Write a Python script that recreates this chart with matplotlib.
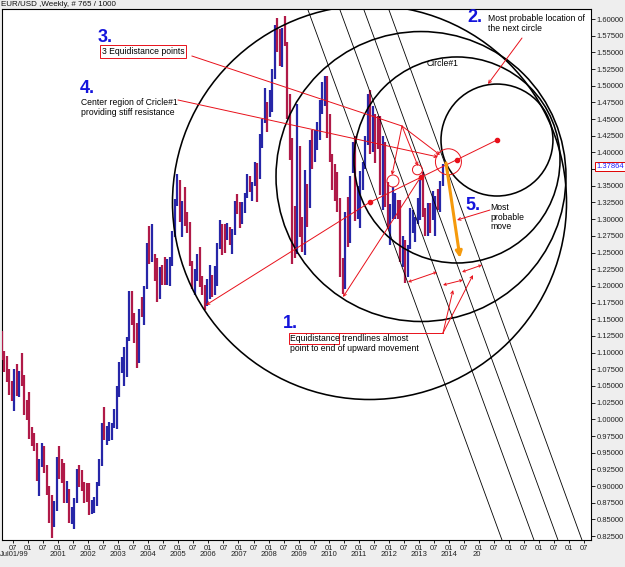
import matplotlib
matplotlib.use('Agg')
import matplotlib.pyplot as plt
import matplotlib.transforms as mtransforms
from matplotlib.patches import Ellipse, Rectangle
import numpy as np

plt.rcParams['font.family'] = ['Liberation Sans', 'DejaVu Sans']

# ---------------- data: monthly EUR/USD ----------------
first_year, first_month = 1999, 2
first_open = 1.1290
highs = [
    1.1330, 1.1017, 1.0950, 1.0760, 1.0570, 1.0750, 1.0825, 1.0720, 1.0990, 1.0660, 1.0290,  # 1999
    1.0415, 0.9890, 0.9800, 0.9640, 0.9400, 0.9650, 0.9600, 0.9320, 0.9000, 0.8870, 0.8780, 0.9440,  # 2000
    0.9595, 0.9400, 0.9340, 0.9080, 0.8960, 0.8690, 0.8820, 0.9250, 0.9310, 0.9240, 0.9060, 0.9050,  # 2001
    0.9040, 0.8790, 0.8840, 0.9060, 0.9400, 0.9950, 1.0190, 0.9900, 0.9960, 0.9950, 1.0160, 1.0500,  # 2002
    1.0860, 1.0930, 1.1080, 1.1230, 1.1930, 1.1930, 1.1600, 1.1450, 1.1660, 1.1830, 1.2000, 1.2650,  # 2003
    1.2900, 1.2930, 1.2480, 1.2420, 1.2290, 1.2310, 1.2430, 1.2410, 1.2440, 1.2830, 1.3300, 1.3670,  # 2004
    1.3580, 1.3270, 1.3480, 1.3100, 1.2950, 1.2380, 1.2260, 1.2480, 1.2580, 1.2150, 1.2010, 1.2100,  # 2005
    1.2320, 1.2160, 1.2300, 1.2640, 1.2980, 1.2920, 1.2920, 1.2940, 1.2880, 1.2850, 1.3270, 1.3370,  # 2006
    1.3250, 1.3260, 1.3390, 1.3680, 1.3650, 1.3560, 1.3850, 1.3840, 1.4280, 1.4500, 1.4970, 1.4750,  # 2007
    1.4940, 1.5250, 1.5910, 1.6020, 1.5850, 1.5860, 1.6040, 1.5660, 1.4870, 1.4220, 1.3200, 1.4720,  # 2008
    1.4100, 1.3030, 1.3740, 1.3520, 1.4180, 1.4340, 1.4330, 1.4450, 1.4780, 1.5060, 1.5150, 1.5140,  # 2009
    1.4580, 1.3980, 1.3820, 1.3700, 1.3320, 1.2420, 1.3110, 1.3330, 1.3650, 1.4160, 1.4250, 1.3500,  # 2010
    1.3720, 1.3860, 1.4250, 1.4880, 1.4940, 1.4700, 1.4580, 1.4550, 1.4550, 1.4250, 1.4150, 1.3550,  # 2011
    1.3230, 1.3480, 1.3390, 1.3290, 1.3280, 1.2750, 1.2690, 1.2620, 1.3170, 1.3140, 1.3030, 1.3310,  # 2012
    1.3580, 1.3710, 1.3170, 1.3240, 1.3240, 1.3420, 1.3340, 1.3450, 1.3570, 1.3830,  # 2013
]
lows = [
    1.0882, 1.0710, 1.0560, 1.0370, 1.0275, 1.0123, 1.0350, 1.0330, 1.0500, 1.0070, 0.9990,  # 1999
    0.9710, 0.9600, 0.9530, 0.9080, 0.8845, 0.9280, 0.9190, 0.8860, 0.8450, 0.8228, 0.8380, 0.8620,  # 2000
    0.9100, 0.9050, 0.8750, 0.8750, 0.8440, 0.8430, 0.8350, 0.8740, 0.8990, 0.8930, 0.8750, 0.8760,  # 2001
    0.8560, 0.8580, 0.8600, 0.8700, 0.9000, 0.9300, 0.9690, 0.9610, 0.9680, 0.9690, 0.9870, 0.9860,  # 2002
    1.0330, 1.0700, 1.0500, 1.0630, 1.1180, 1.1410, 1.1140, 1.0770, 1.0850, 1.1530, 1.1410, 1.1950,  # 2003
    1.2330, 1.2360, 1.2080, 1.1760, 1.1800, 1.2010, 1.2020, 1.2020, 1.2000, 1.2300, 1.2730, 1.3200,  # 2004
    1.2950, 1.2730, 1.2900, 1.2800, 1.2300, 1.1950, 1.1870, 1.2080, 1.1980, 1.1860, 1.1640, 1.1700,  # 2005
    1.1800, 1.1830, 1.1860, 1.2000, 1.2560, 1.2460, 1.2490, 1.2690, 1.2620, 1.2480, 1.2770, 1.3070,  # 2006
    1.2870, 1.2930, 1.3090, 1.3310, 1.3400, 1.3270, 1.3500, 1.3260, 1.3600, 1.4070, 1.4440, 1.4300,  # 2007
    1.4530, 1.4600, 1.5100, 1.5500, 1.5290, 1.5280, 1.5600, 1.4500, 1.3880, 1.2330, 1.2420, 1.2480,  # 2008
    1.2740, 1.2510, 1.2460, 1.2890, 1.3170, 1.3750, 1.3850, 1.4040, 1.4180, 1.4580, 1.4690, 1.4220,  # 2009
    1.3860, 1.3440, 1.3270, 1.3110, 1.2140, 1.1880, 1.1950, 1.2590, 1.2640, 1.3690, 1.2970, 1.3000,  # 2010
    1.2870, 1.3440, 1.3750, 1.4110, 1.3970, 1.4000, 1.3840, 1.4050, 1.3360, 1.3140, 1.3180, 1.2860,  # 2011
    1.2620, 1.3000, 1.3000, 1.3000, 1.2360, 1.2290, 1.2040, 1.2130, 1.2560, 1.2800, 1.2660, 1.2930,  # 2012
    1.2990, 1.3030, 1.2750, 1.2750, 1.2800, 1.2990, 1.2750, 1.3130, 1.3100, 1.3500,  # 2013
]
closes = [
    1.0985, 1.0765, 1.0575, 1.0435, 1.0350, 1.0680, 1.0580, 1.0690, 1.0540, 1.0080, 1.0070,  # 1999
    0.9725, 0.9660, 0.9565, 0.9125, 0.9335, 0.9530, 0.9270, 0.8870, 0.8825, 0.8500, 0.8710, 0.9415,  # 2000
    0.9380, 0.9210, 0.8790, 0.8880, 0.8460, 0.8500, 0.8760, 0.9115, 0.9110, 0.9050, 0.8920, 0.8900,  # 2001
    0.8590, 0.8690, 0.8720, 0.9020, 0.9330, 0.9880, 0.9800, 0.9810, 0.9870, 0.9900, 0.9920, 1.0490,  # 2002
    1.0730, 1.0780, 1.0910, 1.1180, 1.1800, 1.1500, 1.1240, 1.0980, 1.1650, 1.1620, 1.1990, 1.2590,  # 2003
    1.2470, 1.2480, 1.2310, 1.1970, 1.2200, 1.2170, 1.2030, 1.2180, 1.2420, 1.2770, 1.3280, 1.3560,  # 2004
    1.3040, 1.3260, 1.2960, 1.2870, 1.2320, 1.2100, 1.2120, 1.2340, 1.2030, 1.1990, 1.1790, 1.1840,  # 2005
    1.2150, 1.1920, 1.2120, 1.2620, 1.2820, 1.2790, 1.2760, 1.2810, 1.2680, 1.2760, 1.3250, 1.3200,  # 2006
    1.2990, 1.3230, 1.3360, 1.3650, 1.3450, 1.3530, 1.3680, 1.3640, 1.4260, 1.4480, 1.4630, 1.4590,  # 2007
    1.4860, 1.5180, 1.5790, 1.5610, 1.5550, 1.5750, 1.5610, 1.4720, 1.4090, 1.2730, 1.2680, 1.3970,  # 2008
    1.2800, 1.2670, 1.3250, 1.3240, 1.4150, 1.4030, 1.4250, 1.4340, 1.4640, 1.4720, 1.5010, 1.4330,  # 2009
    1.3870, 1.3630, 1.3510, 1.3290, 1.2270, 1.2230, 1.3050, 1.2680, 1.3610, 1.3930, 1.2980, 1.3380,  # 2010
    1.3690, 1.3800, 1.4170, 1.4810, 1.4390, 1.4500, 1.4390, 1.4370, 1.3390, 1.4150, 1.3460, 1.2950,  # 2011
    1.3080, 1.3320, 1.3340, 1.3240, 1.2380, 1.2670, 1.2300, 1.2570, 1.2860, 1.2960, 1.2990, 1.3190,  # 2012
    1.3580, 1.3060, 1.2820, 1.3170, 1.3000, 1.3010, 1.3300, 1.3220, 1.3520, 1.37864,  # 2013
]
last_price = 1.37864

# geometric annotations (data coordinates: decimal year, price)
circle_cx = [2011.356, 2013.068, 2014.265, 2015.594]
circle_cy = [1.3250, 1.3639, 1.3887, 1.4186]
circle_r = [0.2953, 0.2173, 0.1544, 0.0839]          # radius expressed in price units
chan_top_x = [2009.311, 2010.375, 2011.173, 2012.004]
chan_bot_x = [2015.761, 2016.824, 2017.622, 2018.420]
chan_top_y, chan_bot_y = 1.6135, 0.8191

y_ticks = [round(0.825 + 0.025 * i, 3) for i in range(32)]
year_labels = list(range(2001, 2015))

# ---------------- figure ----------------
W, H = 625, 567
fig = plt.figure(figsize=(W / 100, H / 100), dpi=100, facecolor='#eeeeee')
ax = fig.add_axes([2 / W, (H - 540) / H, 589 / W, 531 / H])
ax.set_facecolor('white')
x0, x1 = 1999.138, 2018.720
y0, y1 = 0.81913, 1.61499
ax.set_xlim(x0, x1)
ax.set_ylim(y0, y1)
sx = 589 / (x1 - x0)      # px per year
sy = 531 / (y1 - y0)      # px per price unit

# price bars
n = len(closes)
t = np.array([first_year + (first_month - 1 + i + 0.5) / 12 for i in range(n)])
opens = np.array([first_open] + closes[:-1])
cl = np.array(closes)
cols = np.where(cl >= opens, '#2626a8', '#b01a48')
ax.vlines(t, lows, highs, colors=cols, lw=1.6, zorder=3)

# circles
for cx, cy, r in zip(circle_cx, circle_cy, circle_r):
    ax.add_patch(Ellipse((cx, cy), 2 * r * sy / sx, 2 * r, fill=False, ec='black', lw=1.15, zorder=4))

# parallel channel lines
for a, b in zip(chan_top_x, chan_bot_x):
    ax.plot([a, b], [chan_top_y, chan_bot_y], color='black', lw=0.6, zorder=4)

RED = '#e8101a'
def arrow(x0_, y0_, x1_, y1_, style='->', color=RED, lw=0.7, ms=5):
    ax.annotate('', xy=(x1_, y1_), xytext=(x0_, y0_),
                arrowprops=dict(arrowstyle=style, color=color, lw=lw, shrinkA=0, shrinkB=0,
                                mutation_scale=ms), zorder=6)

# line through circle centres + dots
ax.plot([circle_cx[0], circle_cx[-1]], [circle_cy[0], circle_cy[-1]], color=RED, lw=0.7, zorder=6)
ax.plot(circle_cx, circle_cy, 'o', color=RED, ms=3, zorder=7)
# radii to lows
arrow(circle_cx[0], circle_cy[0], 2005.920, 1.1713)
arrow(circle_cx[1], circle_cy[1], 2010.475, 1.1833)

# small red circles (equidistance points)
for (cx, cy, rp) in [(2012.137, 1.3572, 6), (2012.95, 1.3740, 5), (2013.98, 1.3860, 13)]:
    ax.add_patch(Ellipse((cx, cy), 2 * rp / sx, 2 * rp / sy, fill=False, ec=RED, lw=0.7, zorder=6))

# label 3 lines
ax.plot([2005.455, 2012.436], [1.5445, 1.4396], color=RED, lw=0.7, zorder=6)
arrow(2012.436, 1.4396, 2012.104, 1.3662)
arrow(2012.436, 1.4396, 2012.968, 1.3797)
arrow(2012.436, 1.4396, 2013.700, 1.3962)
# label 4 line
arrow(2004.989, 1.4786, 2013.633, 1.3932)
# label 2 arrow
arrow(2016.426, 1.5715, 2015.295, 1.5026)
# label 5 arrow
arrow(2015.362, 1.3137, 2014.265, 1.2987)
# orange move arrow
arrow(2013.899, 1.3842, 2014.365, 1.2418, style='-|>', color='#f59a0c', lw=2.2, ms=9)
# label 1 lines
ax.plot([2010.342, 2013.799], [1.12938, 1.12938], color=RED, lw=0.7, zorder=6)
arrow(2013.799, 1.12938, 2014.132, 1.1938)
arrow(2013.799, 1.12938, 2014.797, 1.2163)
for (a, b, c, d) in [(2012.636, 1.2058, 2013.600, 1.2208),
                     (2013.799, 1.2013, 2014.464, 1.2088),
                     (2014.431, 1.2208, 2015.096, 1.2313)]:
    arrow(a, b, c, d, style='<->', ms=4)
ax.add_patch(Rectangle((2008.680, 1.11289), 2010.342 - 2008.680, 1.12938 - 1.11289,
                       fill=False, ec=RED, lw=0.7, zorder=6))

# texts
BLUE = '#1414dc'
big = dict(color=BLUE, fontsize=13, fontweight='heavy', zorder=8)
small = dict(color='black', fontsize=6.2, zorder=8)
ax.text(2002.330, 1.5655, '3.', va='baseline', **big)
ax.text(2002.453, 1.5513, '3 Equidistance points', va='center', ha='left',
        bbox=dict(boxstyle='square,pad=0.2', fc='white', ec=RED, lw=0.7), **small)
ax.text(2001.731, 1.4895, '4.', va='baseline', **big)
ax.text(2001.765, 1.4810, 'Center region of Cricle#1\nproviding stiff resistance', va='top',
        linespacing=1.1, **small)
ax.text(2014.597, 1.5955, '2.', va='baseline', **big)
ax.text(2015.295, 1.6075, 'Most probable location of\nthe next circle', va='top', linespacing=1.1, **small)
ax.text(2013.267, 1.5333, 'Circle#1', va='center', **small)
ax.text(2008.480, 1.1369, '1.', va='baseline', **big)
ax.text(2008.713, 1.1279, 'Equidistance trendlines almost\npoint to end of upward movement', va='top',
        linespacing=1.1, **small)
ax.text(2014.531, 1.3137, '5.', va='baseline', **big)
ax.text(2015.362, 1.3242, 'Most\nprobable\nmove', va='top', linespacing=1.1, **small)

# axes styling
for s in ax.spines.values():
    s.set_color('black')
    s.set_linewidth(0.8)
ax.yaxis.tick_right()
ax.set_yticks(y_ticks)
ax.set_yticklabels(['' if abs(v - 1.375) < 1e-9 else f'{v:.5f}' for v in y_ticks])
ax.tick_params(axis='y', length=3, pad=1, labelsize=5.5, labelcolor='#222222', width=0.6)
xt = [y + 0.5 * k for y in range(1999, 2019) for k in (0, 1)]
xt = [v for v in xt if x0 < v < x1]
ax.set_xticks(xt)
ax.set_xticklabels(['01' if abs(v - round(v)) < 1e-9 else '07' for v in xt])
ax.tick_params(axis='x', length=2, pad=1.5, labelsize=5.5, labelcolor='#222222', width=0.6)

bt = mtransforms.blended_transform_factory(ax.transData, ax.transAxes)
for yr in year_labels:
    ax.text(yr, -15 / 531, str(yr), transform=bt, ha='center', va='center', fontsize=5.5, color='#222222')
ax.text(2014.92, -15 / 531, '20', transform=bt, ha='center', va='center', fontsize=5.5, color='#222222')
ax.text(-2 / 589, -15 / 531, 'Jul01/99', transform=ax.transAxes, ha='left', va='center', fontsize=5.5,
        color='#222222')

rt = mtransforms.blended_transform_factory(ax.transAxes, ax.transData)
ax.text(1 + 5 / 589, last_price, f'{last_price:.5f}', transform=rt, ha='left', va='center', fontsize=5.5,
        color='#2020ff', bbox=dict(boxstyle='square,pad=0.15', fc='white', ec='#e00000', lw=0.7), zorder=9)

fig.text(1 / W, 1 - 5 / H, 'EUR/USD ,Weekly, # 765 / 1000', fontsize=5.8, va='center', ha='left', color='#111111')

fig.savefig('out.png', dpi=100, facecolor=fig.get_facecolor())
